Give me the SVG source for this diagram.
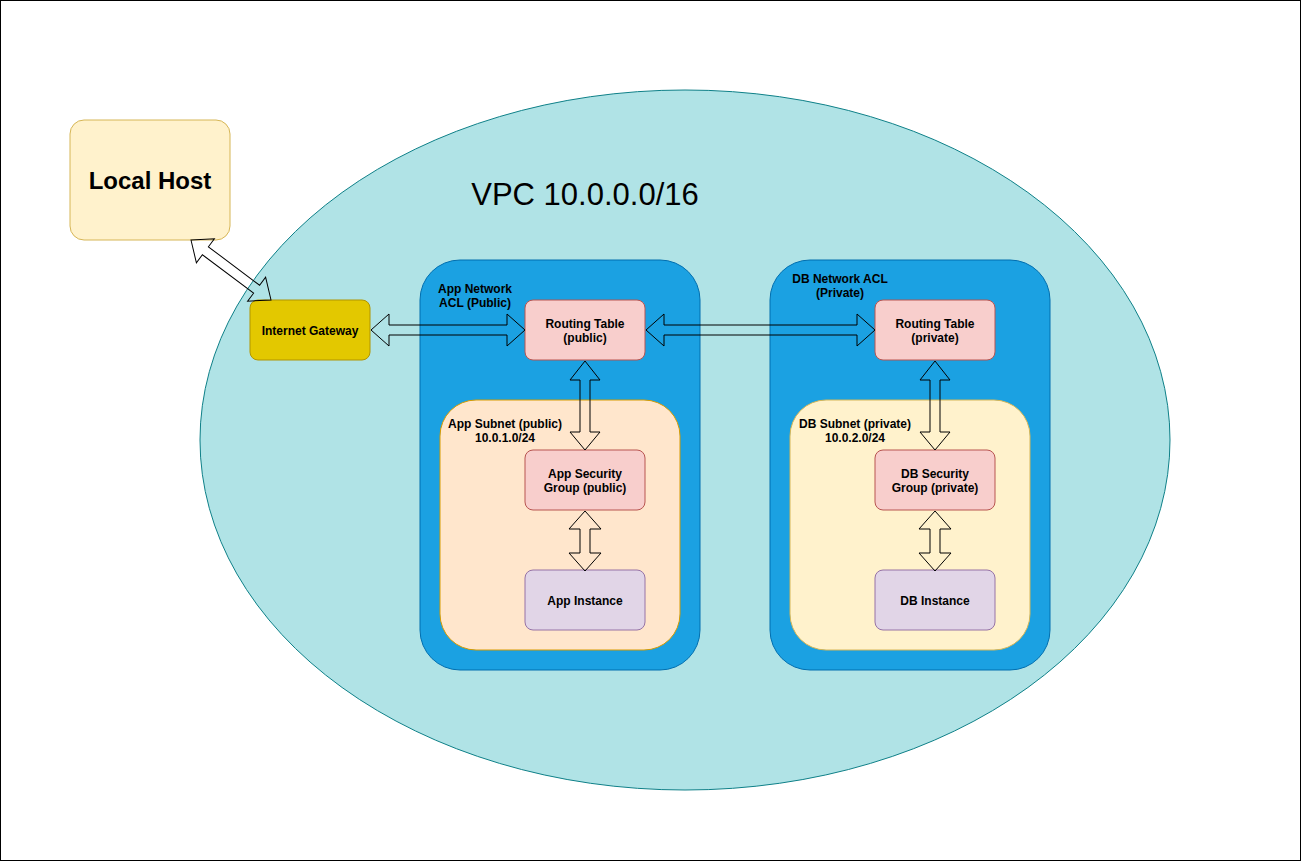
<svg xmlns="http://www.w3.org/2000/svg" width="1302" height="862" viewBox="0 0 1302 862">
<style>
text{font-family:"Liberation Sans",Arial,sans-serif;fill:#000;text-anchor:middle}
.b{font-weight:bold;font-size:12px}
.arr{fill:none;stroke:#000;stroke-width:1}
.pink{fill:#f8cecc;stroke:#b85450}
.purple{fill:#e1d5e7;stroke:#9673a6}
.acl{fill:#1ba1e2;stroke:#006eaf}
</style>
<defs>
<path id="a90" d="M0,0 L18,-15 L18,-5 L72,-5 L72,-15 L90,0 L72,15 L72,5 L18,5 L18,15 Z"/>
</defs>
<rect x="0.5" y="0.5" width="1300" height="860" fill="#fff" stroke="#000"/>
<g id="vpc">
<ellipse cx="685" cy="440" rx="485" ry="350" fill="#b0e3e6" stroke="#0e8088"/>
<text x="585" y="205" font-size="31">VPC 10.0.0.0/16</text>
</g>
<g id="local-host">
<rect x="70" y="120" width="160" height="120" rx="14" fill="#fff2cc" stroke="#d6b656"/>
<text x="150" y="189" font-size="24" font-weight="bold">Local Host</text>
</g>
<g id="internet-gateway">
<rect x="250" y="300" width="120" height="60" rx="8" fill="#e3c800" stroke="#b09500"/>
<text class="b" x="310" y="335">Internet Gateway</text>
</g>
<g id="app-acl">
<rect class="acl" x="420" y="260" width="280" height="410" rx="40"/>
<text class="b" x="475" y="293">App Network</text>
<text class="b" x="475" y="307">ACL (Public)</text>
</g>
<g id="db-acl">
<rect class="acl" x="770" y="260" width="280" height="410" rx="40"/>
<text class="b" x="840" y="283">DB Network ACL</text>
<text class="b" x="840" y="297">(Private)</text>
</g>
<g id="app-subnet">
<rect x="440" y="400" width="240" height="250" rx="36" fill="#ffe6cc" stroke="#d79b00"/>
<text class="b" x="505" y="428">App Subnet (public)</text>
<text class="b" x="505" y="442">10.0.1.0/24</text>
</g>
<g id="db-subnet">
<rect x="790" y="400" width="240" height="250" rx="36" fill="#fff2cc" stroke="#d6b656"/>
<text class="b" x="855" y="428">DB Subnet (private)</text>
<text class="b" x="855" y="442">10.0.2.0/24</text>
</g>
<g id="rt-public">
<rect class="pink" x="525" y="300" width="120" height="60" rx="8"/>
<text class="b" x="585" y="328">Routing Table</text>
<text class="b" x="585" y="342">(public)</text>
</g>
<g id="rt-private">
<rect class="pink" x="875" y="300" width="120" height="60" rx="8"/>
<text class="b" x="935" y="328">Routing Table</text>
<text class="b" x="935" y="342">(private)</text>
</g>
<g id="sg-app">
<rect class="pink" x="525" y="450" width="120" height="60" rx="8"/>
<text class="b" x="585" y="478">App Security</text>
<text class="b" x="585" y="492">Group (public)</text>
</g>
<g id="sg-db">
<rect class="pink" x="875" y="450" width="120" height="60" rx="8"/>
<text class="b" x="935" y="478">DB Security</text>
<text class="b" x="935" y="492">Group (private)</text>
</g>
<g id="app-instance">
<rect class="purple" x="525" y="570" width="120" height="60" rx="8"/>
<text class="b" x="585" y="605">App Instance</text>
</g>
<g id="db-instance">
<rect class="purple" x="875" y="570" width="120" height="60" rx="8"/>
<text class="b" x="935" y="605">DB Instance</text>
</g>
<g id="connectors">
<path class="arr" transform="translate(191,240) rotate(36.87)" d="M0,0 L18,-15 L18,-5 L82,-5 L82,-15 L100,0 L82,15 L82,5 L18,5 L18,15 Z"/>
<path class="arr" d="M371,330 L389,314 L389,325 L507,325 L507,314 L525,330 L507,346 L507,335 L389,335 L389,346 Z"/>
<path class="arr" d="M646,330 L664,314 L664,325 L857,325 L857,314 L875,330 L857,346 L857,335 L664,335 L664,346 Z"/>
<path class="arr" d="M585,361 L600,380 L590,380 L590,432 L600,432 L585,450 L570,432 L580,432 L580,380 L570,380 Z"/>
<path class="arr" d="M935,361 L950,380 L940,380 L940,432 L950,432 L935,450 L920,432 L930,432 L930,380 L920,380 Z"/>
<path class="arr" d="M585,511 L601,529 L590,529 L590,553 L601,553 L585,571 L569,553 L580,553 L580,529 L569,529 Z"/>
<path class="arr" d="M935,511 L951,529 L940,529 L940,553 L951,553 L935,571 L919,553 L930,553 L930,529 L919,529 Z"/>
</g>
</svg>
